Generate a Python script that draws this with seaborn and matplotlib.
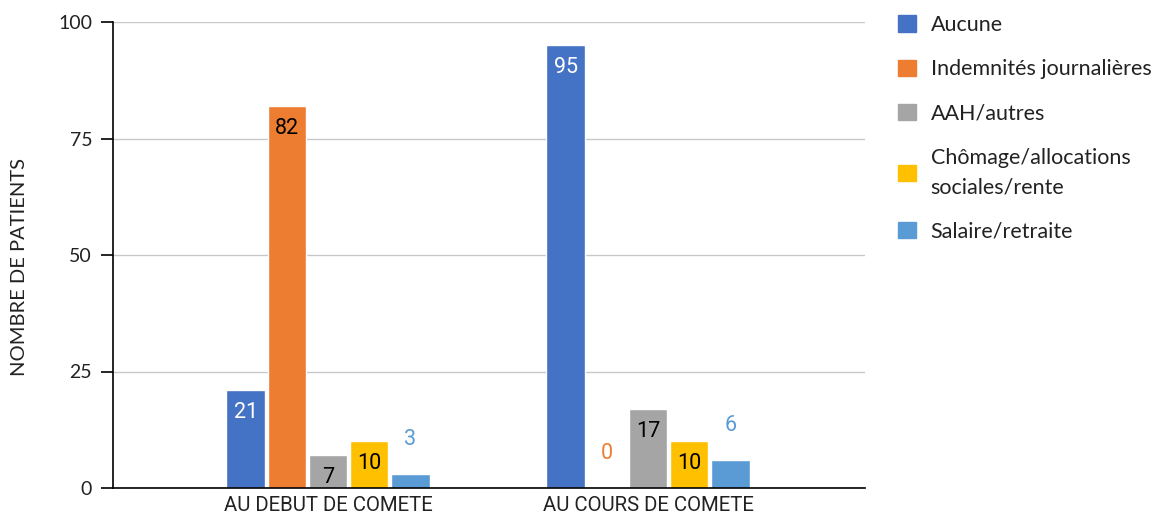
import matplotlib
matplotlib.use("Agg")
import matplotlib.pyplot as plt
import seaborn as sns
import pandas as pd

# data
periods = ["AU DEBUT DE COMETE", "AU COURS DE COMETE"]
sources = ["Aucune", "Indemnités journalières", "AAH/autres",
           "Chômage/allocations sociales/rente", "Salaire/retraite"]
legend_labels = ["Aucune", "Indemnités journalières", "AAH/autres",
                 "Chômage/allocations\nsociales/rente", "Salaire/retraite"]
debut_counts = [21, 82, 7, 10, 3]
cours_counts = [95, 0, 17, 10, 6]
yticks = [0, 25, 50, 75, 100]

colors = ["#4472C4", "#ED7D31", "#A5A5A5", "#FFC000", "#5B9BD5"]
# label style per series: inside (with text colour) or above (series colour)
label_inside = [True, True, True, True, False]
label_colors = ["white", "black", "black", "black", colors[4]]

rows = []
for period, counts in zip(periods, [debut_counts, cours_counts]):
    for src, n in zip(sources, counts):
        rows.append({"period": period, "source": src, "n": n})
df = pd.DataFrame(rows)

sns.set_theme(style="white")
plt.rcParams["font.family"] = ["Roboto", "DejaVu Sans"]

fig = plt.figure(figsize=(11.73, 5.22), dpi=100)
ax = fig.add_axes([113 / 1173, 34 / 522, 752 / 1173, 466 / 522])

sns.barplot(data=df, x="period", y="n", hue="source", order=periods,
            hue_order=sources, palette=colors, width=0.644, gap=0.07,
            saturation=1, ax=ax, legend=False)

ax.set_xlim(-0.672, 1.678)
ax.set_ylim(0, 100)
ax.set_yticks(yticks)
ax.yaxis.grid(True, color="#c8c8c8", linewidth=1)
ax.set_axisbelow(True)
for side in ["top", "right"]:
    ax.spines[side].set_visible(False)
ax.spines["left"].set_color("black")
ax.spines["bottom"].set_color("black")
ax.spines["left"].set_linewidth(1.2)
ax.spines["bottom"].set_linewidth(1.2)
ax.tick_params(axis="y", length=9, width=1.2, color="black", direction="out",
               left=True, labelsize=14, pad=6)
ax.tick_params(axis="x", length=0, labelsize=14.7, pad=6)
for lbl in ax.get_yticklabels():
    lbl.set_family(["Lato", "DejaVu Sans"])
    lbl.set_color("#222222")
for lbl in ax.get_xticklabels():
    lbl.set_color("#222222")
ax.set_xlabel("")
ax.set_ylabel("")
fig.text(20 / 1173, 1 - 267 / 522, "NOMBRE DE PATIENTS", rotation=90,
         ha="center", va="center", fontsize=14.5, color="#222222",
         family=["Lato", "DejaVu Sans"])

# value labels
for i, container in enumerate(ax.containers):
    for bar in container:
        h = bar.get_height()
        x = bar.get_x() + bar.get_width() / 2
        if label_inside[i] and h > 0:
            y = h - 4.8 if h > 5 else h / 2
            ax.text(x, y, f"{h:.0f}", ha="center", va="center",
                    fontsize=15.5, color=label_colors[i])
        else:
            ax.text(x, h + 7.5, f"{h:.0f}", ha="center", va="center",
                    fontsize=15.5, color=colors[i])

handles = [plt.Rectangle((0, 0), 1, 1, color=c) for c in colors]
leg = fig.legend(handles, legend_labels, loc="upper left",
                 bbox_to_anchor=(879 / 1173, 1.008), frameon=False,
                 prop={"family": "Lato", "size": 15.5}, handlelength=0.8,
                 handleheight=0.8, handletextpad=0.7, labelspacing=1.12)
for t in leg.get_texts():
    t.set_linespacing(1.6)
    t.set_color("#222222")

fig.savefig("out.png", dpi=100)
